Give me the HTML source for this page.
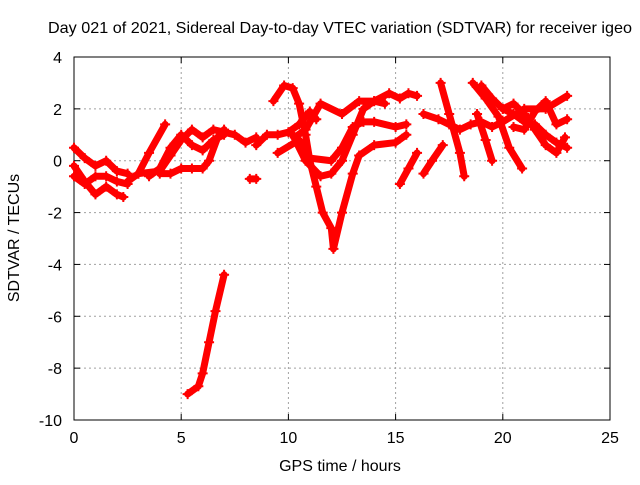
<!DOCTYPE html>
<html><head><meta charset="utf-8"><style>
body{margin:0;background:#fff;font-family:"Liberation Sans",sans-serif;}
svg text{font-family:"Liberation Sans",sans-serif;font-size:16px;fill:#000;}
</style></head><body>
<svg id="chart" width="640" height="480" viewBox="0 0 640 480">
<text x="340" y="33" text-anchor="middle" textLength="584" lengthAdjust="spacingAndGlyphs">Day 021 of 2021, Sidereal Day-to-day VTEC variation (SDTVAR) for receiver igeo</text>
<g id="grid"></g>
<g id="axes"></g>
<g id="series"></g>
<text x="340" y="471" text-anchor="middle">GPS time / hours</text>
<text transform="translate(19,238) rotate(-90)" text-anchor="middle">SDTVAR / TECUs</text>
</svg>
<script>
const xTicks=[0,5,10,15,20,25];
const yTicks=[4,2,0,-2,-4,-6,-8,-10];
const trackA=[[0,0.5],[0.5,0.1],[1,-0.2],[1.5,0],[2,-0.4],[2.5,-0.5]];
const trackB=[[0,-0.2],[0.5,-0.8],[1,-1.3],[1.5,-1.0],[2,-1.3],[2.3,-1.4]];
const trackC=[[0,-0.6],[0.5,-0.9],[1,-0.6],[1.5,-0.6],[2,-0.8],[2.5,-0.9]];
const trackD=[[2.5,-0.8],[3,-0.5],[3.5,0.3],[4.25,1.4]];
const trackE=[[3,-0.5],[4,-0.4],[4.5,0.2],[5,0.8],[5.5,1.2],[6,0.9],[6.5,1.2],[7,1.1],[7.5,1.0],[8,0.7],[8.5,0.9]];
const trackF=[[4,-0.5],[4.5,-0.5],[5,-0.3],[5.5,-0.3],[6,-0.3],[6.3,0],[6.7,0.9],[7,1.2]];
const trackG=[[3.5,-0.6],[4,-0.3],[4.5,0.5],[5,1.0],[5.5,0.6],[6,0.4],[6.5,0.8],[7,1.0]];
const trackH=[[8.2,-0.7],[8.5,-0.7]];
const trackI=[[5.3,-9.0],[5.8,-8.7],[6.0,-8.2],[6.3,-7.0],[6.6,-5.8],[7.0,-4.4]];
const trackJ=[[8.5,0.6],[9,1.0],[9.5,1.0],[10,1.1],[10.5,1.4],[11,1.9],[11.3,1.6]];
const trackK=[[9.3,2.3],[9.8,2.9],[10.2,2.8],[10.5,2.2],[10.8,1.0],[11,0],[11.3,-1.0],[11.6,-2.0],[12,-2.6],[12.1,-3.4],[12.5,-2.0],[13,-0.5],[13.3,0.2],[14,0.6],[15,0.7],[15.5,1.0]];
const trackL=[[10.2,1.0],[10.8,0],[11.5,-0.6],[12,-0.5],[12.5,0],[13,1.0],[13.5,2.0],[14,2.3],[14.5,2.2]];
const trackM=[[9.5,0.3],[10.5,0.8],[11,0.1],[12,0],[12.5,0.5],[13,1.3],[13.5,1.5],[14,1.5],[15,1.3],[15.5,1.4]];
const trackN=[[10.3,0.9],[10.8,1.2],[11.5,2.2],[12.5,1.8],[13.3,2.3],[14,2.3],[14.7,2.6],[15.2,2.4],[15.6,2.6],[16,2.5]];
const trackO=[[15.2,-0.9],[15.6,-0.3],[16,0.3]];
const trackO2=[[16.3,-0.5],[16.7,0],[17.2,0.6]];
const trackP=[[17.1,3.0],[17.5,1.8],[18,0.3],[18.2,-0.6]];
const trackP2=[[18.8,1.8],[19.2,0.8],[19.5,0]];
const trackQ=[[16.3,1.8],[17,1.6],[17.5,1.4],[18,1.2],[18.5,1.4],[19,1.5],[19.5,1.3],[20,1.5],[21,2.0],[22,2.0],[23,2.5]];
const trackR=[[19,2.9],[19.5,2.4],[20,2.0],[20.5,1.8],[21,1.5],[21.5,1.4],[22,1.0],[22.5,0.7],[23,0.5]];
const trackS=[[18.6,3.0],[19.2,2.4],[19.8,1.7],[20.3,0.5],[20.9,-0.3]];
const trackT=[[20,2.0],[20.5,2.2],[21,1.8],[21.5,1.2],[22,0.6],[22.5,0.3],[22.9,0.9]];
const trackU=[[20.5,1.3],[21,1.2],[21.5,1.9],[22,2.3],[22.5,1.4],[23,1.6]];
const tracks=[trackA,trackB,trackC,trackD,trackE,trackF,trackG,trackH,trackI,trackJ,trackK,trackL,trackM,trackN,trackO,trackO2,trackP,trackP2,trackQ,trackR,trackS,trackT,trackU];

const X0=74,X1=610,Y0=57,Y1=420;
function xs(v){return X0+(v-0)/(25-0)*(X1-X0);}
function ys(v){return Y0+(4-v)/(4-(-10))*(Y1-Y0);}
const NS='http://www.w3.org/2000/svg';
function mk(tag,attrs,parent){const e=document.createElementNS(NS,tag);for(const k in attrs)e.setAttribute(k,attrs[k]);parent.appendChild(e);return e;}
const grid=document.getElementById('grid'),axes=document.getElementById('axes'),ser=document.getElementById('series');
xTicks.forEach(t=>{
  const x=xs(t);
  if(t>0&&t<25){const g=mk('line',{x1:x,x2:x,y1:Y0,y2:Y1,stroke:'#a0a0a0','stroke-dasharray':'2,3'},grid);
  
  }
  mk('line',{x1:x,x2:x,y1:Y1,y2:Y1-6,stroke:'#000'},axes);
  mk('line',{x1:x,x2:x,y1:Y0,y2:Y0+6,stroke:'#000'},axes);
  const tx=mk('text',{x:x,y:Y1+23,'text-anchor':'middle'},axes);tx.textContent=t;
  
  
});
yTicks.forEach(t=>{
  const y=ys(t);
  if(t<4&&t>-10){const g=mk('line',{x1:X0,x2:X1,y1:y,y2:y,stroke:'#a0a0a0','stroke-dasharray':'2,3'},grid);
  
  }
  mk('line',{x1:X0,x2:X0+6,y1:y,y2:y,stroke:'#000'},axes);
  mk('line',{x1:X1,x2:X1-6,y1:y,y2:y,stroke:'#000'},axes);
  const tx=mk('text',{x:X0-12,y:y+6,'text-anchor':'end'},axes);tx.textContent=t;
  
  
});
const fr=mk('rect',{x:X0,y:Y0,width:X1-X0,height:Y1-Y0,fill:'none',stroke:'#000'},axes);


tracks.forEach(tr=>{
  const pts=tr.map(p=>xs(p[0])+','+ys(p[1])).join(' ');
  const pl=mk('polyline',{points:pts,fill:'none',stroke:'#ff0000','stroke-width':7,'stroke-linejoin':'round','stroke-linecap':'round'},ser);
  
  
  tr.forEach(p=>{
    const x=xs(p[0]),y=ys(p[1]);
    const m=mk('path',{d:`M${x-5},${y}H${x+5}M${x},${y-5}V${y+5}`,stroke:'#ff0000','stroke-width':2},ser);
    
    
  });
});
</script>
</body></html>
